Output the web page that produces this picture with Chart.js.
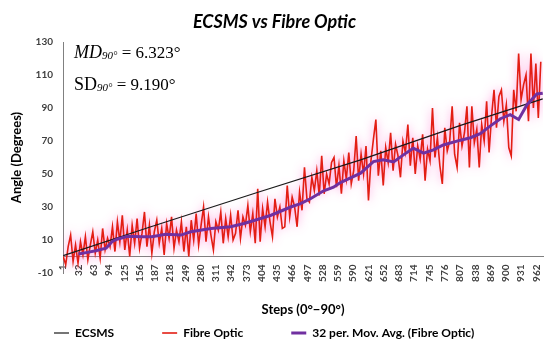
<!DOCTYPE html>
<html>
<head>
<meta charset="utf-8">
<script src="https://cdn.jsdelivr.net/npm/chart.js@4.4.0/dist/chart.umd.min.js"></script>
<style>
  html, body { margin: 0; padding: 0; background: #fff; }
  #wrap { width: 550px; height: 349px; }
</style>
</head>
<body>
<div id="wrap"><canvas id="myChart"></canvas></div>
<script>
// x axis labels (every 31 steps, like the Excel sheet)
var xTicks = [1, 32, 63, 94, 125, 156, 187, 218, 249, 280, 311, 342, 373, 404, 435, 466,
              497, 528, 559, 590, 621, 652, 683, 714, 745, 776, 807, 838, 869, 900, 931, 962];

// ECSMS reference angle
var ecsmsSteps = [1, 179, 395, 605, 808, 975];
var ecsmsValues = [0.5, 18, 38.8, 58.6, 79.5, 95.5];

// Fibre optic reading, one value every 5 steps starting at step 1
var fibreStepGap = 5;
var fibreValues = [
  0, -5, 6, 13, -3, 7, -4,
  9, 1, 12, -2, 7, 15, 2, 10, -1, 17, 4, 11,
  6, 18, 3, 21, 9, 25, 4, 16, 0, 19, 8, 23, 5,
  14, 27, 6, 19, 2, 15, 22, 8, 17, 1, 20, 11, 24, 5, 16, 9, 21, 3,
  18, 0, 22, 10, 26, 7, 19, 30, 9, 24, 13, 4, 21, 16, 27, 8, 23, 12, 25, 10,
  14, 28, 11, 24, 19, 31, 15, 26, 8, 41, 9, 29, 18, 33, 21, 12, 35, 24, 30, 17,
  18, 43, 24, 36, 30, 18, 39, 28, 54, 35, 33, 48, 40, 52, 37, 61, 38, 50, 44, 57,
  60, 42, 55, 38, 58, 47, 63, 44, 52, 73, 46, 62, 50, 67, 34, 58, 71, 83, 49, 64,
  43, 66, 57, 75, 52, 68, 61, 48, 70, 63, 80, 55, 72, 50, 67, 59, 74, 46, 65, 58,
  90, 60, 72, 55, 44, 78, 64, 70, 91, 62, 54, 81, 67, 75, 91, 54, 91, 69, 77, 54,
  80, 70, 94, 63, 85, 101, 78, 97, 101, 82, 92, 66, 61, 101, 88, 123, 95, 104, 110, 82, 123, 90, 117, 84, 118
];

// 32 period moving average
var avgSteps = [32, 50, 67, 88, 100, 110, 132, 160, 181, 209, 240, 260, 301, 341, 368, 402, 423, 463, 483, 503,
                530, 550, 564, 605, 631, 651, 672, 692, 712, 733, 753, 773, 808, 828, 848, 868, 889, 909, 926, 943, 963, 975];
var avgValues = [1.5, 2.5, 3.5, 5, 9, 10.5, 12.2, 12, 12, 13.5, 13, 15, 17, 18, 20, 23, 25, 30, 32, 35,
                 39.8, 42, 44.8, 50.5, 57.5, 58.6, 57.3, 61.6, 65.6, 62.6, 64.6, 67.6, 70.5, 72, 74.5, 79, 83.5, 86, 83, 92, 98.5, 99];

var mdText = ['MD', '90°', ' = 6.323°'];
var sdText = ['SD', '90°', ' = 9.190°'];

function drawStat(c, x, y, parts, mainFont) {
  c.font = mainFont;
  c.fillText(parts[0], x, y);
  x += c.measureText(parts[0]).width;
  c.font = 'italic 11px "Liberation Serif"';
  c.fillText(parts[1], x, y + 1);
  x += c.measureText(parts[1]).width;
  c.font = '17px "Liberation Serif"';
  c.fillText(parts[2], x, y);
}

var statsText = {
  id: 'statsText',
  afterDraw: function(chart) {
    var c = chart.ctx;
    c.save();
    c.fillStyle = '#000';
    c.textBaseline = 'alphabetic';
    drawStat(c, 74, 58, mdText, 'italic 18px "Liberation Serif"');
    drawStat(c, 74, 90, sdText, '18px "Liberation Serif"');
    c.restore();
  }
};

// soft pink glow under the fibre optic trace
var glow = {
  id: 'glow',
  beforeDatasetDraw: function(chart, args) {
    if (args.index !== 1) return;
    chart.ctx.save();
    chart.ctx.shadowColor = 'rgba(255, 90, 200, 0.7)';
    chart.ctx.shadowBlur = 10;
  },
  afterDatasetDraw: function(chart, args) {
    if (args.index === 1) chart.ctx.restore();
  }
};

Chart.defaults.font.family = 'Lato, "Open Sans", sans-serif';

var ctx = document.getElementById('myChart');
var myChart = new Chart(ctx, {
  type: 'line',
  data: {
    datasets: [{
      label: 'ECSMS',
      data: ecsmsSteps.map(function(s, i) { return {x: s, y: ecsmsValues[i]}; }),
      borderColor: '#1a1a1a',
      borderWidth: 1.2,
      pointRadius: 0,
      tension: 0,
      order: 1
    }, {
      label: 'Fibre Optic',
      data: fibreValues.map(function(v, i) { return {x: 1 + i * fibreStepGap, y: v}; }),
      borderColor: '#E31E14',
      borderWidth: 1.6,
      pointRadius: 0,
      tension: 0,
      order: 2
    }, {
      label: '32 per. Mov. Avg. (Fibre Optic)',
      data: avgSteps.map(function(s, i) { return {x: s, y: avgValues[i]}; }),
      borderColor: '#7030A0',
      borderWidth: 3,
      pointRadius: 0,
      tension: 0,
      order: 0
    }]
  },
  options: {
    responsive: true,
    maintainAspectRatio: false,
    animation: false,
    layout: { padding: { left: 6, right: 7, top: 0, bottom: 0 } },
    scales: {
      x: {
        type: 'linear',
        min: 0.5,
        max: 975.5,
        position: { y: 0 },
        afterBuildTicks: function(scale) {
          scale.ticks = xTicks.map(function(v) { return {value: v}; });
        },
        afterFit: function(scale) {
          scale.paddingLeft = 0;
          scale.paddingRight = 0;
        },
        ticks: {
          autoSkip: false,
          minRotation: 90,
          maxRotation: 90,
          padding: 8,
          color: '#404040',
          font: { size: 10, weight: 'bold' }
        },
        grid: { display: false, drawTicks: false },
        border: { display: true, color: '#808080', width: 1 },
        title: {
          display: true,
          text: 'Steps (0°−90°)',
          color: '#000',
          font: { size: 13, weight: 'bold' },
          padding: { top: 12, bottom: 0 }
        }
      },
      y: {
        min: -10,
        max: 130,
        ticks: {
          stepSize: 20,
          padding: 10,
          color: '#404040',
          font: { size: 10, weight: 'bold' }
        },
        grid: { display: false, drawTicks: false },
        border: { display: true, color: '#808080', width: 1 },
        title: {
          display: true,
          text: 'Angle (Degrees)',
          color: '#000',
          font: { size: 13, weight: 'bold' },
          padding: { top: 3, bottom: 1 }
        }
      }
    },
    plugins: {
      title: {
        display: true,
        text: 'ECSMS vs Fibre Optic',
        color: '#000',
        font: { size: 18, weight: 'bold', style: 'italic' },
        padding: { top: 11, bottom: 9.4 }
      },
      legend: {
        position: 'bottom',
        align: 'start',
        title: { display: true, text: ' ', font: { size: 5 }, padding: 0 },
        labels: {
          usePointStyle: true,
          pointStyle: 'line',
          pointStyleWidth: 15,
          padding: 48,
          color: '#000',
          font: { size: 12, weight: 'bold' },
          sort: function(a, b) { return a.datasetIndex - b.datasetIndex; }
        }
      },
      tooltip: { enabled: false }
    }
  },
  plugins: [statsText, glow]
});
</script>
</body>
</html>
